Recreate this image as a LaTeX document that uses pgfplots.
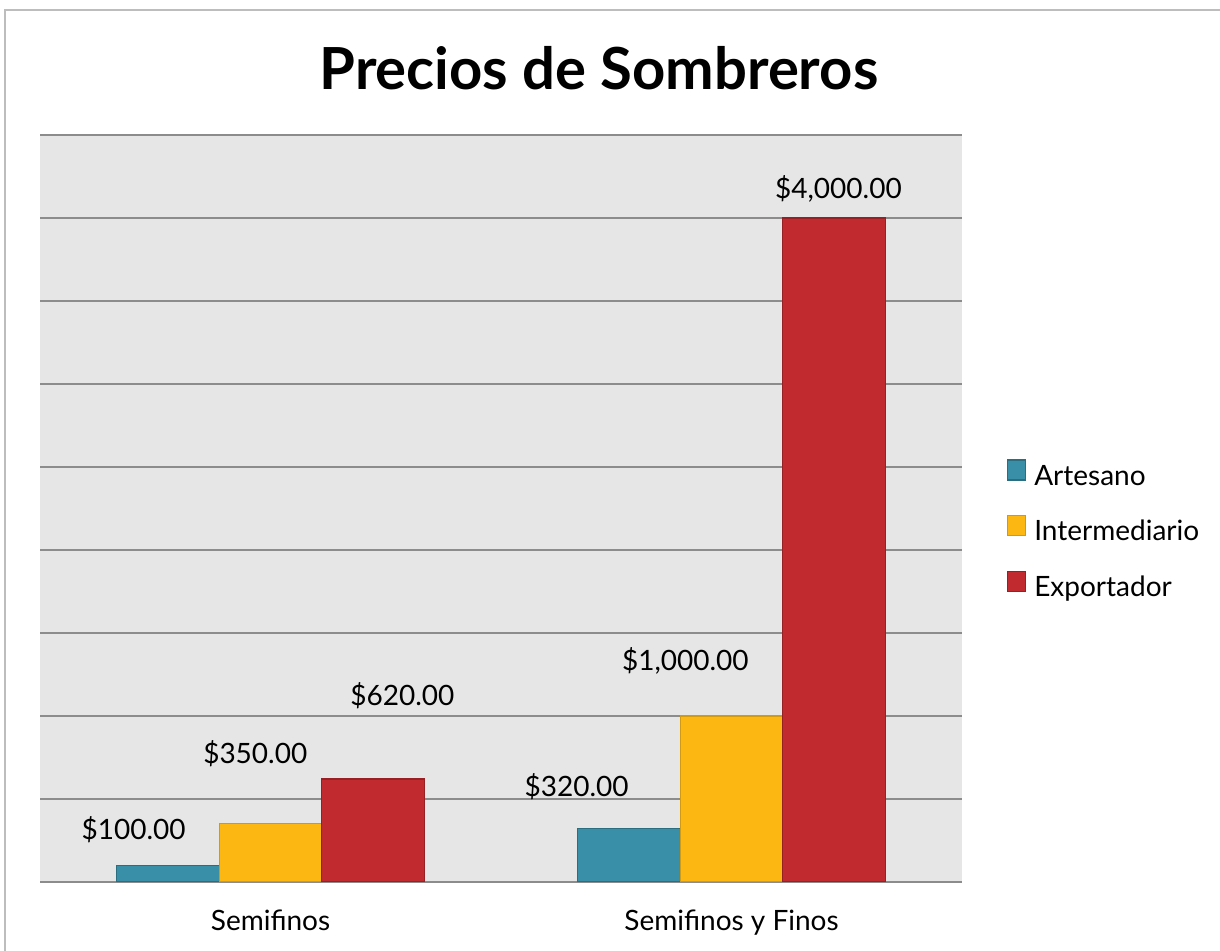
\documentclass[border=0pt]{standalone}
\usepackage{pgfplots}
\pgfplotsset{compat=1.18}
\usepackage{fontspec}
\setmainfont{Lato}
\definecolor{artesano}{HTML}{3A8FA8}
\definecolor{artesanoD}{HTML}{2A6E80}
\definecolor{interm}{HTML}{FDB713}
\definecolor{intermD}{HTML}{D39A10}
\definecolor{export}{HTML}{C12A2E}
\definecolor{exportD}{HTML}{962024}
\definecolor{bgray}{HTML}{E6E6E6}
\definecolor{gridc}{HTML}{8C8C8C}
\definecolor{framec}{HTML}{BDBDBD}
\begin{document}
\begin{tikzpicture}
\useasboundingbox (0,0) rectangle (610pt,475.5pt);
\draw[color=framec, line width=1pt] (2.5pt,-20pt) rectangle (640pt,470.5pt);
\node[font=\bfseries\fontsize{29}{34}\selectfont] at (299.5pt,441.5pt) {Precios de Sombreros};
\begin{axis}[
  at={(20pt,34.5pt)}, anchor=south west,
  scale only axis, width=461pt, height=373.5pt,
  xmin=-0.5, xmax=1.5, ymin=0, ymax=4500,
  axis background/.style={fill=bgray},
  axis line style={draw=none},
  ytick={0,500,...,4500}, yticklabels={},
  ymajorgrids, major grid style={color=gridc, line width=1pt},
  xtick={0,1}, xticklabels={Semifinos, Semifinos y Finos},
  major tick length=0pt,
  xticklabel style={font=\fontsize{14}{16}\selectfont, yshift=-10.5pt},
  ybar, bar width=51.25pt,
  area legend,
  legend image code/.code={\draw[#1] (0pt,-1.2pt) rectangle (9pt,8.8pt); \path[draw=none,fill=none] (0pt,0pt) -- (12pt,0pt);},
  legend cell align=left,
  legend style={at={(1.048,0.468)}, anchor=west, draw=none, fill=none,
    inner sep=0pt, font=\fontsize{14}{16}\selectfont,
    nodes={inner sep=1.5pt, text height=10.5pt, text depth=3pt},
    row sep=10.5pt},
]
\addplot[fill=artesano, draw=artesanoD, line width=0.6pt, bar shift=-51.25pt] coordinates {(0,100) (1,320)};
\addplot[fill=interm, draw=intermD, line width=0.6pt, bar shift=0pt] coordinates {(0,350) (1,1000)};
\addplot[fill=export, draw=exportD, line width=0.6pt, bar shift=51.25pt] coordinates {(0,620) (1,4000)};
\legend{Artesano, Intermediario, Exportador}
\begin{scope}[every node/.style={font=\fontsize{14}{16}\selectfont}]
\node at (axis cs:-0.297,313) {\$100.00};
\node at (axis cs:-0.033,770) {\$350.00};
\node at (axis cs:0.286,1125) {\$620.00};
\node at (axis cs:0.664,577) {\$320.00};
\node at (axis cs:0.900,1329) {\$1,000.00};
\node at (axis cs:1.232,4174) {\$4,000.00};
\end{scope}
\end{axis}
\end{tikzpicture}
\end{document}
